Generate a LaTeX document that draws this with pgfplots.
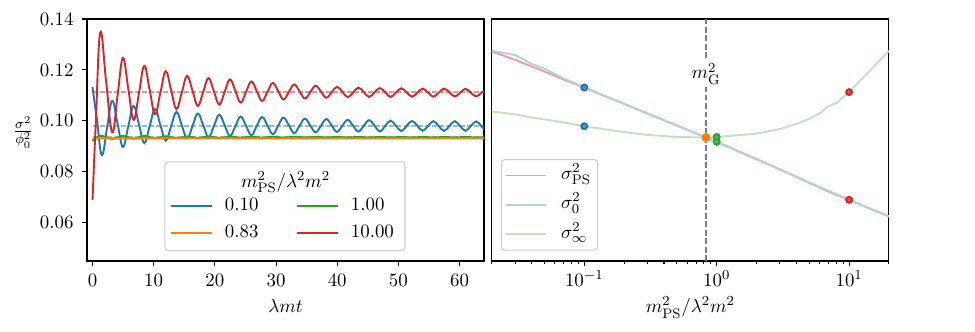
\documentclass[11pt,border=0pt]{standalone}
\usepackage{pgfplots}
\pgfplotsset{compat=1.18}
\definecolor{tabblue}{HTML}{1F77B4}
\definecolor{taborange}{HTML}{FF7F0E}
\definecolor{tabgreen}{HTML}{2CA02C}
\definecolor{tabred}{HTML}{D62728}
\definecolor{framegray}{gray}{0.8}
\pgfplotsset{
  common/.style={scale only axis, height=140.36pt, ymin=0.045, ymax=0.14,
    axis line style={line width=0.6pt}, tick style={line width=0.6pt, black},
    tick align=outside, xtick pos=bottom, ytick pos=left,
    major tick length=3pt, minor tick length=1.8pt,
    xticklabel style={anchor=base, yshift=-11.8pt}},
  meanline/.style={opacity=0.5, line width=1pt, dash pattern=on 2.9pt off 1.2pt, forget plot},
}
\begin{document}
\begin{tikzpicture}
\useasboundingbox (0,0) rectangle (565.5pt,192.56pt);
\begin{axis}[common, at={(50.46pt,41.18pt)}, anchor=south west, width=230.26pt,
  xmin=-0.9, xmax=64, xtick={0,10,20,30,40,50,60},
  ytick={0.06,0.08,0.10,0.12,0.14},
  yticklabel style={/pgf/number format/.cd, fixed, fixed zerofill, precision=2, /tikz/.cd, xshift=-1pt},
  scaled y ticks=false,
  every axis x label/.style={at={(rel axis cs:0.5,0)}, anchor=center, yshift=-26pt},
  every axis y label/.style={at={(rel axis cs:0,0.529)}, anchor=center, xshift=-37pt},
  xlabel={$\lambda m t$}, ylabel={$\frac{\sigma^2}{\phi_0^2}$},
  legend columns=2, legend cell align=left,
  legend style={at={(0.496,0.172)}, anchor=center, draw=none, fill=none, row sep=2pt,
    nodes={inner sep=2pt, text height=7.5pt, text depth=2pt},
    /tikz/every odd column/.append style={column sep=5pt},
    /tikz/every even column/.append style={column sep=20pt}},
  legend image code/.code={\draw[#1] (0pt,0pt) -- (23.5pt,0pt);},
]
% 0.10 (blue)
\addplot[tabblue, line width=1.1pt, smooth, tension=0.7] coordinates {
(0,0.1133) (0.75,0.1000) (1.53,0.0866) (2.38,0.0973) (3.22,0.1079) (4.10,0.0989)
(4.97,0.0898) (5.85,0.0979) (6.72,0.1059) (7.60,0.0986) (8.47,0.0913) (9.35,0.0980)
(10.22,0.1046) (11.10,0.0984) (11.97,0.0922) (12.85,0.0979) (13.72,0.1035) (14.60,0.0983)
(15.47,0.0931) (16.35,0.0980) (17.22,0.1029) (18.10,0.0983) (18.97,0.0936) (19.85,0.0980)
(20.72,0.1024) (21.60,0.0983) (22.47,0.0941) (23.35,0.0979) (24.22,0.1017) (25.10,0.0981)
(25.97,0.0944) (26.85,0.0980) (27.72,0.1015) (28.60,0.0982) (29.47,0.0948) (30.35,0.0981)
(31.22,0.1013) (32.10,0.0983) (32.97,0.0952) (33.85,0.0981) (34.72,0.1009) (35.60,0.0982)
(36.47,0.0955) (37.35,0.0981) (38.22,0.1007) (39.10,0.0982) (39.97,0.0957) (40.85,0.0981)
(41.72,0.1004) (42.60,0.0981) (43.47,0.0958) (44.35,0.0981) (45.22,0.1003) (46.10,0.0981)
(46.97,0.0959) (47.85,0.0980) (48.72,0.1001) (49.60,0.0981) (50.47,0.0960) (51.35,0.0980)
(52.22,0.1000) (53.10,0.0981) (53.97,0.0961) (54.85,0.0980) (55.72,0.0999) (56.60,0.0980)
(57.47,0.0961) (58.35,0.0980) (59.22,0.0999) (60.10,0.0980) (60.97,0.0961) (61.85,0.0980)
(62.72,0.0998) (63.50,0.0981) (64.00,0.0968)};
\addlegendentry{0.10}
\addplot[tabblue, meanline] coordinates {(0,0.0979) (64,0.0979)};
% 1.00 (green)
\addplot[tabgreen, line width=1.1pt, smooth] coordinates {
(0,0.0921) (1.26,0.0942) (3.22,0.0929) (4.97,0.0941) (6.72,0.0930) (8.47,0.0941)
(10.22,0.0931) (11.97,0.0940) (13.72,0.0932) (15.47,0.0939) (17.22,0.0933) (18.97,0.0939)
(20.72,0.0933) (22.47,0.0938) (24.22,0.0934) (25.97,0.0938) (27.72,0.0934) (29.47,0.0938)
(31.22,0.0934) (32.97,0.0938) (34.72,0.0935) (36.47,0.0937) (38.22,0.0935) (39.97,0.0937)
(41.72,0.0935) (43.47,0.0937) (45.22,0.0935) (46.97,0.0937) (48.72,0.0935) (50.47,0.0937)
(52.22,0.0935) (53.97,0.0937) (55.72,0.0935) (57.47,0.0937) (59.22,0.0935) (60.97,0.0937)
(62.72,0.0935) (64,0.0936)};
\addlegendentry{1.00}
\addplot[tabgreen, meanline] coordinates {(0,0.0937) (64,0.0937)};
% 0.83 (orange)
\addplot[taborange, line width=1.1pt] coordinates {
(0,0.0930) (1,0.0933) (2,0.0932) (5,0.0931) (10,0.0932) (20,0.0932) (30,0.0931) (40,0.0932) (50,0.0932) (64,0.0932)};
\addlegendentry{0.83}
\addplot[taborange, meanline] coordinates {(0,0.0931) (64,0.0931)};
% 10.00 (red)
\addplot[tabred, line width=1.1pt, smooth, tension=0.7] coordinates {
(0,0.0689) (0.55,0.1000) (1.26,0.1347) (2.24,0.1151) (3.22,0.0955) (4.10,0.1101)
(4.97,0.1247) (5.85,0.1126) (6.72,0.1004) (7.60,0.1110) (8.47,0.1216) (9.35,0.1121)
(10.22,0.1026) (11.10,0.1111) (11.97,0.1195) (12.85,0.1121) (13.72,0.1046) (14.60,0.1112)
(15.47,0.1177) (16.35,0.1118) (17.22,0.1059) (18.10,0.1114) (18.97,0.1168) (19.85,0.1116)
(20.72,0.1064) (21.60,0.1114) (22.47,0.1163) (23.35,0.1118) (24.22,0.1072) (25.10,0.1114)
(25.97,0.1155) (26.85,0.1117) (27.72,0.1078) (28.60,0.1114) (29.47,0.1149) (30.35,0.1117)
(31.22,0.1084) (32.10,0.1114) (32.97,0.1143) (33.85,0.1116) (34.72,0.1088) (35.60,0.1113)
(36.47,0.1138) (37.35,0.1115) (38.22,0.1091) (39.10,0.1113) (39.97,0.1134) (40.85,0.1114)
(41.72,0.1093) (42.60,0.1112) (43.47,0.1131) (44.35,0.1113) (45.22,0.1094) (46.10,0.1112)
(46.97,0.1129) (47.85,0.1112) (48.72,0.1094) (49.60,0.1111) (50.47,0.1128) (51.35,0.1112)
(52.22,0.1095) (53.10,0.1111) (53.97,0.1127) (54.85,0.1111) (55.72,0.1095) (56.60,0.1111)
(57.47,0.1127) (58.35,0.1112) (59.22,0.1096) (60.10,0.1111) (60.97,0.1126) (61.85,0.1111)
(62.72,0.1096) (63.60,0.1111) (64.00,0.1117)};
\addlegendentry{10.00}
\addplot[tabred, meanline] coordinates {(0,0.1113) (64,0.1113)};
\draw[framegray, line width=0.6pt, rounded corners=2pt, fill=white, fill opacity=0.8]
  (rel axis cs:0.196,0.043) rectangle (rel axis cs:0.801,0.410);
\node at (rel axis cs:0.5,0.325) {$m_{\mathrm{PS}}^2/\lambda^2 m^2$};
\end{axis}

\begin{axis}[common, at={(285.2pt,41.18pt)}, anchor=south west, width=230.4pt,
  xmode=log, xmin=0.02, xmax=20, xtick={0.1,1,10},
  minor xtick={0.02,0.03,0.04,0.05,0.06,0.07,0.08,0.09,0.2,0.3,0.4,0.5,0.6,0.7,0.8,0.9,2,3,4,5,6,7,8,9,20},
  ytick=\empty,
  every axis x label/.style={at={(rel axis cs:0.5,0)}, anchor=center, yshift=-27pt},
  xlabel={$m_{\mathrm{PS}}^2/\lambda^2 m^2$},
  legend style={at={(0.023,0.043)}, anchor=south west, draw=framegray, line width=0.6pt,
    rounded corners=2pt, fill=white, row sep=0.5pt, inner xsep=2pt, inner ysep=1pt,
    nodes={inner sep=2pt, text height=8.5pt, text depth=4pt},
    /tikz/every odd column/.append style={column sep=6pt}},
  legend cell align=left,
  legend image code/.code={\draw[#1] (0pt,0pt) -- (23.5pt,0pt);},
]
\addplot[gray, line width=0.9pt, dash pattern=on 3.4pt off 1.5pt, forget plot]
  coordinates {(0.83,0.045) (0.83,0.14)};
\node[fill=white, inner sep=1.5pt] at (axis cs:0.83,0.1185) {$m_{\mathrm{G}}^2$};
\addplot[tabred!45!white, line width=1.1pt] coordinates {
(0.02,0.1273) (0.03,0.1240) (0.05,0.1194) (0.07,0.1162) (0.1,0.1131) (0.2,0.1067)
(0.3,0.1029) (0.5,0.0982) (0.83,0.0935) (1,0.0918) (2,0.0850) (3,0.0810) (5,0.0757)
(7,0.0722) (10,0.0690) (20,0.0625)};
\addlegendentry{$\sigma_{\mathrm{PS}}^2$}
\addplot[tabblue!35!white, line width=1.1pt] coordinates {
(0.02,0.1275) (0.03,0.1259) (0.04,0.1224) (0.05,0.1205) (0.07,0.1167) (0.1,0.1131)
(0.2,0.1067) (0.3,0.1029) (0.5,0.0982) (0.83,0.0935) (1,0.0918) (2,0.0849) (3,0.0809)
(5,0.0758) (6,0.0740) (7,0.0725) (10,0.0690) (20,0.0625)};
\addlegendentry{$\sigma_0^2$}
\addplot[tabgreen!30!white, line width=1.1pt] coordinates {
(0.02,0.1037) (0.03,0.1026) (0.04,0.1013) (0.05,0.1006) (0.07,0.0994) (0.1,0.0979)
(0.2,0.0956) (0.3,0.0945) (0.5,0.0937) (0.83,0.0935) (1,0.0937) (2,0.0950) (3,0.0968)
(4,0.0988) (5,0.1008) (6,0.1030) (7,0.1058) (8,0.1070) (10,0.1113) (20,0.1275)};
\addlegendentry{$\sigma_\infty^2$}
\addplot[only marks, mark=*, mark size=2.1pt, tabblue, forget plot] coordinates {(0.1,0.1131) (0.1,0.0979)};
\addplot[only marks, mark=*, mark size=2.3pt, taborange, forget plot] coordinates {(0.83,0.0935) (0.83,0.0934)};
\addplot[only marks, mark=*, mark size=2.1pt, tabgreen, forget plot] coordinates {(1,0.0937) (1,0.0918)};
\addplot[only marks, mark=*, mark size=2.1pt, tabred, forget plot] coordinates {(10,0.1113) (10,0.0690)};
\addplot[only marks, mark=o, mark size=0.8pt, white, opacity=0.4, mark options={line width=0.3pt}, forget plot]
  coordinates {(0.1,0.1131) (0.1,0.0979) (1,0.0937) (1,0.0918) (10,0.1113) (10,0.0690)};
\end{axis}
\end{tikzpicture}
\end{document}
